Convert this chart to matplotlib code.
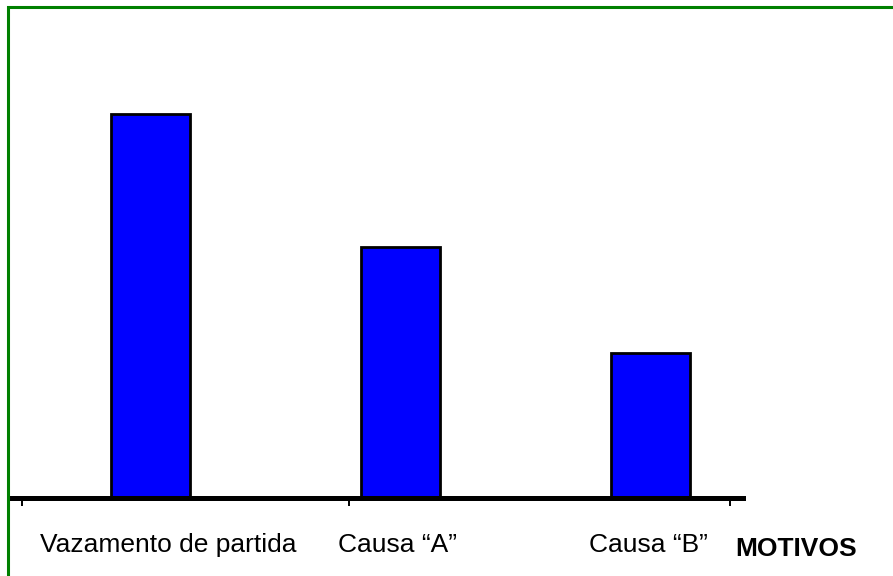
import matplotlib.pyplot as plt
from matplotlib.patches import Rectangle
from matplotlib.transforms import blended_transform_factory

# motivos e valores (unidades arbitrarias)
motivos = ['Vazamento de partida', 'Causa \u201cA\u201d', 'Causa \u201cB\u201d']
valores = [384, 251, 145]
label_offset = [0.07, -0.01, -0.01]
tick_pos = [-0.514, 0.794, 2.318]

plt.rcParams['font.family'] = ['Liberation Sans', 'DejaVu Sans']

fig = plt.figure(figsize=(8.93, 5.76), dpi=100)
ax = fig.add_axes([10 / 893, 1 - 498 / 576, 733 / 893, 478 / 576])

x = list(range(len(motivos)))
ax.bar(x, valores, width=0.316, color='#0000ff', edgecolor='black', linewidth=2.0, zorder=2)

ax.set_xlim(-0.562, 2.37)
ax.set_ylim(0, 478)
for side in ['top', 'right', 'left']:
    ax.spines[side].set_visible(False)
ax.spines['bottom'].set_linewidth(3.6)
ax.spines['bottom'].set_zorder(3)
ax.set_yticks([])
ax.set_xticks(tick_pos)
ax.set_xticklabels([])
ax.tick_params(axis='x', direction='out', length=6, width=1.4)

trans = blended_transform_factory(ax.transData, fig.transFigure)
for i, (nome, dx) in enumerate(zip(motivos, label_offset)):
    ax.text(i + dx, 1 - 552 / 576, nome, transform=trans, ha='center', va='baseline', fontsize=19)

fig.text(735 / 893, 1 - 556 / 576, 'MOTIVOS', fontsize=19, fontweight='bold', ha='left', va='baseline')

# moldura verde
fig.patches.append(Rectangle((8 / 893, -0.05), 1.1, 1.05 - 7 / 576, transform=fig.transFigure,
                             fill=False, edgecolor='#008000', linewidth=2.2, zorder=10))

fig.savefig('out.png', dpi=100)
